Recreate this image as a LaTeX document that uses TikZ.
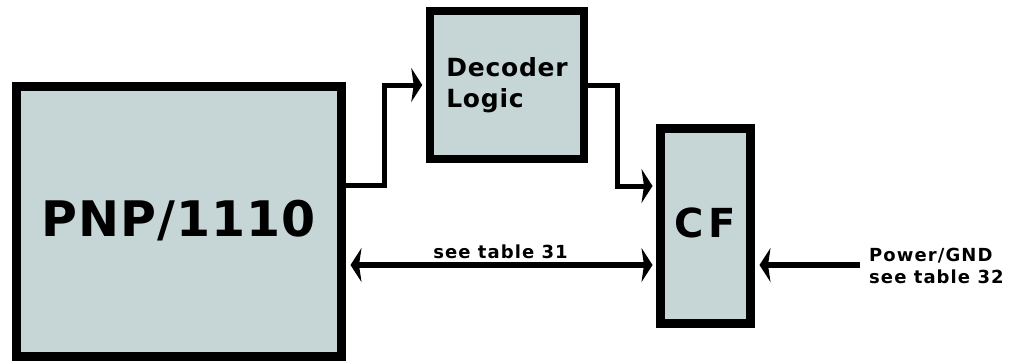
\documentclass[tikz,border=0pt]{standalone}
\usepackage{fontspec}
\setmainfont{DejaVu Sans}
\usetikzlibrary{arrows.meta}
\definecolor{boxfill}{RGB}{198,214,214}
\tikzset{
  blk/.style={draw=black, fill=boxfill, rectangle, inner sep=0pt, font=\bfseries},
  conn/.style={draw=black, line width=5pt},
  tip/.style={-{Stealth[length=11pt,width=34pt,inset=2.5pt]}},
  dtip/.style={{Stealth[length=11pt,width=34pt,inset=2.5pt]}-{Stealth[length=11pt,width=34pt,inset=2.5pt]}},
  smalltxt/.style={font=\fontsize{18}{22}\selectfont\bfseries\addfontfeature{LetterSpace=6}, inner sep=0pt}
}
\begin{document}
\begin{tikzpicture}[x=1pt,y=-1pt]
\useasboundingbox (0,0) rectangle (1012,360);
\node[blk, line width=9pt, minimum width=325pt, minimum height=270pt,
      font=\fontsize{49}{50}\selectfont\bfseries\addfontfeature{LetterSpace=2}] (pnp) at (178.5,221) {PNP/1110};
\node[blk, line width=7.5pt, minimum width=154pt, minimum height=148pt, align=left,
      font=\fontsize{25}{31}\selectfont\bfseries\addfontfeature{LetterSpace=3}] (dec) at (507,85) {Decoder\\Logic};
\node[blk, line width=9pt, minimum width=90pt, minimum height=195.5pt,
      font=\fontsize{40}{40}\selectfont\bfseries\addfontfeature{LetterSpace=12}] (cf) at (705,226) {\raisebox{7pt}{CF}};
\coordinate (j1) at (384.5,185);
\coordinate (j2) at (617,186);
\coordinate (j3) at (500,265);
\coordinate (pw) at (860,265);
\draw[conn, tip, shorten >=4pt] (pnp.east |- j1) -- (j1) |- (dec.west);
\draw[conn, tip, shorten >=3pt] (dec.east) -| (j2) -- (cf.west |- j2);
\draw[conn, line width=6.5pt, dtip, shorten >=3pt, shorten <=5pt]
  (pnp.east |- j3) -- node[smalltxt, anchor=base, yshift=7pt] (l31) {see table 31} (cf.west |- j3);
\draw[conn, line width=6.5pt, tip, shorten >=5pt] (pw) -- (cf.east |- pw);
\node[smalltxt, anchor=north west, align=left] (pwl) at (869,248) {Power/GND\\see table 32};
\end{tikzpicture}
\end{document}
